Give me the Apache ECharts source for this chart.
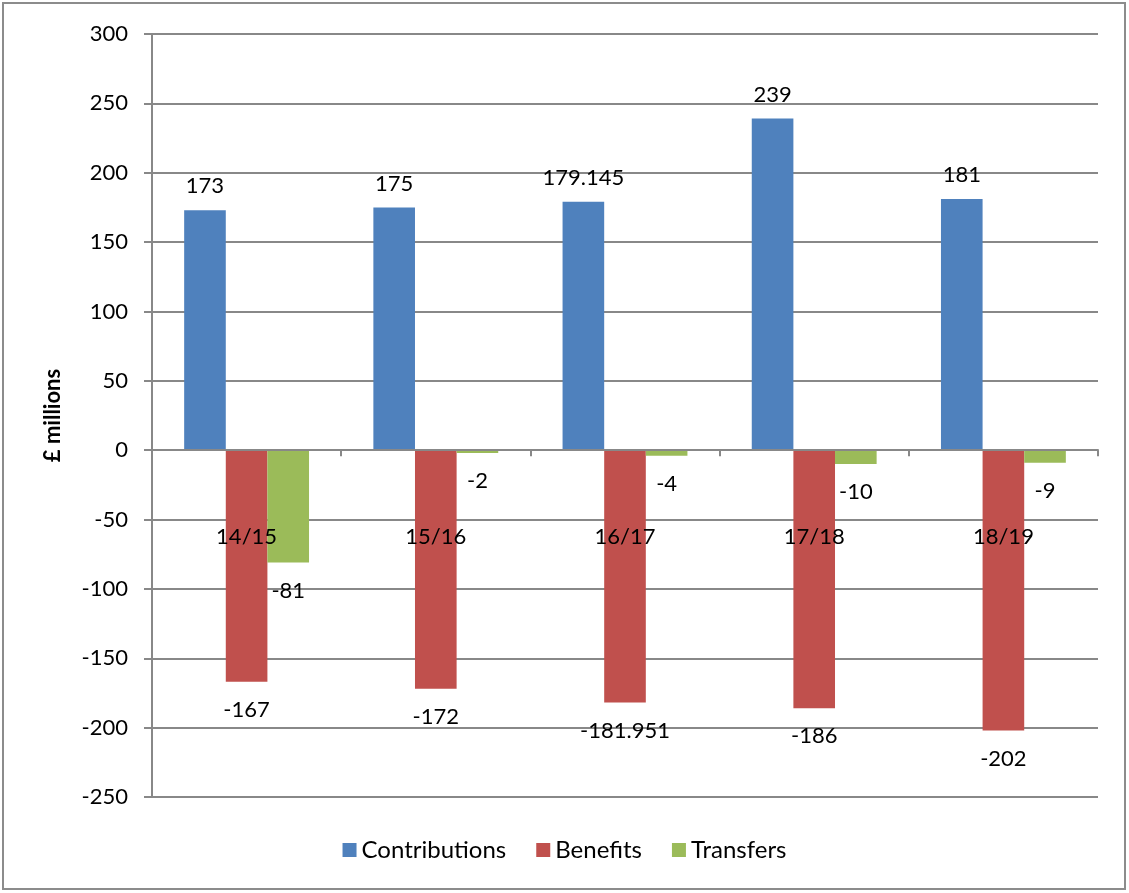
<!DOCTYPE html>
<html><head><meta charset="utf-8">
<script src="https://cdn.jsdelivr.net/npm/echarts@6/dist/echarts.min.js"></script>
<style>html,body{margin:0;padding:0;background:#fff}#c{width:1129px;height:893px}</style>
</head><body><div id="c"></div>
<script>
const categories = ['14/15','15/16','16/17','17/18','18/19'];
const contributions = [173, 175, 179.145, 239, 181];
const benefits = [-167, -172, -181.951, -186, -202];
const transfers = [-81, -2, -4, -10, -9];
const yTicks = {min: -250, max: 300, interval: 50};

const FONT = 'Lato';
const chart = echarts.init(document.getElementById('c'));
const lbl = (pos, d) => ({show: true, position: pos, color: '#000', fontFamily: FONT, fontSize: 22, distance: d});
chart.setOption({
  animation: false,
  textStyle: {fontFamily: FONT},
  graphic: [{type: 'rect', shape: {x: 3, y: 3, width: 1122, height: 886}, style: {fill: 'none', stroke: '#8c8c8c', lineWidth: 2}, z: -1}],
  grid: {left: 152, top: 34, right: 31, bottom: 96},
  legend: {bottom: 26, left: 'center', itemWidth: 14, itemHeight: 14, itemGap: 30, icon: 'rect',
    textStyle: {fontFamily: FONT, fontSize: 24, color: '#000'},
    data: ['Contributions', 'Benefits', 'Transfers']},
  xAxis: {type: 'category', data: categories, z: 5,
    axisLine: {onZero: true, lineStyle: {color: '#888', width: 2}},
    axisTick: {show: true, length: 6, lineStyle: {color: '#888', width: 2}},
    axisLabel: {margin: -271, color: '#000', fontFamily: FONT, fontSize: 22}},
  yAxis: {type: 'value', min: yTicks.min, max: yTicks.max, interval: yTicks.interval,
    name: '£ millions', nameLocation: 'middle', nameGap: 88, nameRotate: 90,
    nameTextStyle: {fontFamily: FONT, fontSize: 22, fontWeight: 'bold', color: '#000'},
    axisLine: {show: true, lineStyle: {color: '#888', width: 2}},
    axisTick: {show: true, length: 8, lineStyle: {color: '#888', width: 2}},
    splitLine: {lineStyle: {color: '#888', width: 2}},
    axisLabel: {margin: 24, color: '#000', fontFamily: FONT, fontSize: 22}},
  series: [
    {name: 'Contributions', type: 'bar', data: contributions, barWidth: '22%', barGap: '0%', itemStyle: {color: '#4F81BD'}, label: lbl('top', 13)},
    {name: 'Benefits', type: 'bar', data: benefits, barWidth: '22%', barGap: '0%', itemStyle: {color: '#C0504D'}, label: lbl('bottom', 17)},
    {name: 'Transfers', type: 'bar', data: transfers, barWidth: '22%', barGap: '0%', itemStyle: {color: '#9BBB59'}, label: lbl('bottom', 17)}
  ]
});
</script></body></html>
